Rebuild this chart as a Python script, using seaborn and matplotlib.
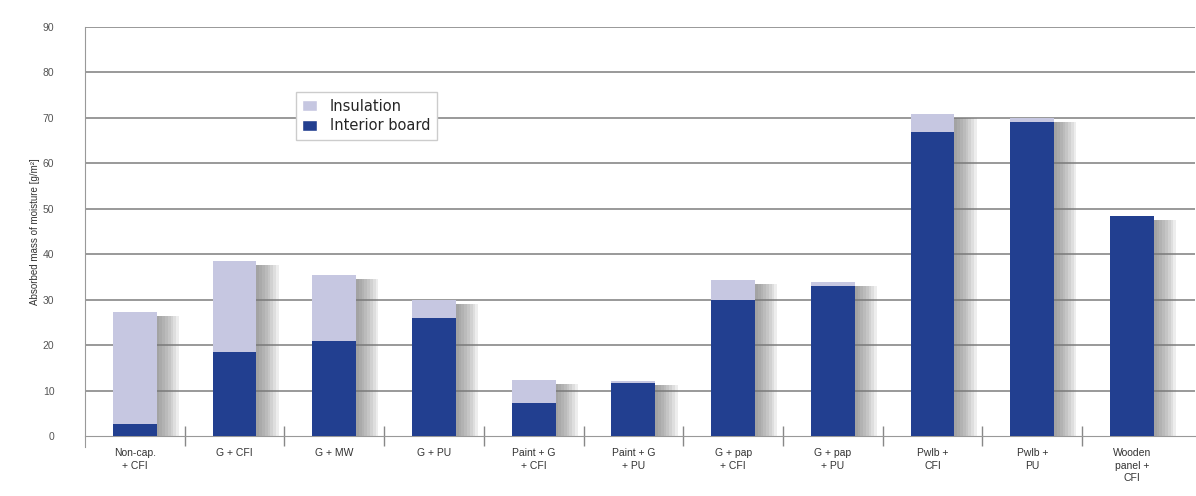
import pandas as pd
import seaborn as sns
import matplotlib.pyplot as plt
import matplotlib.patheffects as pe
from matplotlib.patches import Patch

# values (g/m2)
categories = ['Non-cap.\n+ CFI', 'G + CFI', 'G + MW', 'G + PU', 'Paint + G\n+ CFI',
              'Paint + G\n+ PU', 'G + pap\n+ CFI', 'G + pap\n+ PU', 'Pwlb +\nCFI',
              'Pwlb +\nPU', 'Wooden\npanel +\nCFI']
interior_board = [2.6, 18.5, 21.0, 25.9, 7.2, 11.7, 29.8, 32.9, 66.9, 69.0, 48.4]
total = [27.2, 38.5, 35.5, 30.0, 12.3, 12.1, 34.4, 33.8, 70.9, 70.0, 48.4]

df = pd.DataFrame({'label': categories, 'interior': interior_board, 'total': total})

c_ins = '#c6c7e1'
c_int = '#223f90'
txt = '#555555'

sns.set_style('white')
plt.rcParams['font.family'] = ['Liberation Sans', 'DejaVu Sans']

fig = plt.figure(figsize=(11.96, 4.96), dpi=100)
ax = fig.add_axes([0.071, 0.121, 0.928, 0.825])

# horizontal grid lines
for y in range(10, 100, 10):
    ax.axhline(y, color='#999999', lw=1.4, zorder=0)

sns.barplot(data=df, x='label', y='total', color=c_ins, width=0.44,
            saturation=1, ax=ax, zorder=2)
# soft grey shadow to the right of each bar
shadow = [pe.SimplePatchShadow(offset=(o, -3), shadow_rgbFace='#7a7a7a', alpha=0.13)
          for o in (2, 4, 6, 8, 10, 12, 14, 16)]
for p in ax.patches:
    p.set_path_effects(shadow + [pe.Normal()])
    p.set_linewidth(0)

sns.barplot(data=df, x='label', y='interior', color=c_int, width=0.44,
            saturation=1, ax=ax, zorder=3)
for p in ax.patches:
    p.set_linewidth(0)

ax.set_xlim(-0.5, 10.63)
ax.set_ylim(0, 90)
ax.set_yticks(range(0, 100, 10))
ax.set_yticklabels([str(v) for v in range(0, 100, 10)], fontsize=7.5, color=txt)
ax.set_xticks(range(len(categories)))
ax.set_xticklabels(categories, fontsize=7.5, color='#333333', linespacing=1.3)
ax.set_xticks([i + 0.5 for i in range(len(categories) - 1)], minor=True)
ax.tick_params(axis='x', which='major', length=0, pad=9)
ax.tick_params(axis='x', which='minor', bottom=True, length=14, direction='inout',
               color='#888888', width=1)
ax.tick_params(axis='y', length=0, pad=22)

for s in ['top', 'right']:
    ax.spines[s].set_visible(False)
ax.spines['bottom'].set_color('#999999')
ax.spines['left'].set_color('#999999')
ax.spines['left'].set_bounds(-2.5, 90)
ax.set_xlabel('')
ax.set_ylabel('Absorbed mass of moisture [g/m²]', fontsize=7, color='#333333', labelpad=2)

handles = [Patch(facecolor=c_ins, label='Insulation'), Patch(facecolor=c_int, label='Interior board')]
ax.legend(handles=handles, loc='upper left', bbox_to_anchor=(0.19, 0.84),
          prop={'family': 'DejaVu Sans', 'size': 10.5},
          frameon=True, edgecolor='#cccccc', fancybox=False, handlelength=1.0,
          handleheight=0.8, handletextpad=0.9, borderpad=0.45, labelspacing=0.3,
          borderaxespad=0, framealpha=1)

fig.savefig('out.png', dpi=100)
